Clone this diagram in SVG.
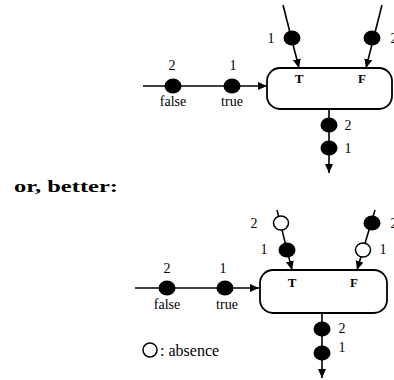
<svg xmlns="http://www.w3.org/2000/svg" width="394" height="380" viewBox="0 0 394 380">
<defs>
<marker id="arr" markerWidth="10" markerHeight="10" refX="9" refY="4" orient="auto" markerUnits="userSpaceOnUse">
<path d="M0,0 L9,4 L0,8 Z" fill="#000"/>
</marker>
</defs>
<style>
.ln{stroke:#000;stroke-width:1.6;fill:none}
.box{stroke:#000;stroke-width:1.8;fill:#fff}
.dot{fill:#000}
.odot{fill:#fff;stroke:#000;stroke-width:1.5}
.lb{font-family:"Liberation Serif",serif;font-size:14px;fill:#000;text-anchor:middle}
.tf{font-family:"Liberation Serif",serif;font-size:13px;font-weight:bold;fill:#000;text-anchor:middle}
.hd{font-family:"Liberation Serif",serif;font-size:17px;font-weight:bold;fill:#000}
.lg{font-family:"Liberation Serif",serif;font-size:16px;fill:#000}
</style>
<rect width="394" height="380" fill="#fff"/>
<g id="connectors">
<line class="ln" x1="143" y1="86" x2="267" y2="86" marker-end="url(#arr)"/>
<line class="ln" x1="283" y1="5" x2="299" y2="68" marker-end="url(#arr)"/>
<line class="ln" x1="382" y1="5" x2="366" y2="68" marker-end="url(#arr)"/>
<line class="ln" x1="329" y1="109" x2="329" y2="173" marker-end="url(#arr)"/>
<line class="ln" x1="135" y1="288" x2="259" y2="288" marker-end="url(#arr)"/>
<line class="ln" x1="277" y1="210" x2="292" y2="270" marker-end="url(#arr)"/>
<line class="ln" x1="375" y1="210" x2="357" y2="270" marker-end="url(#arr)"/>
<line class="ln" x1="322" y1="313" x2="322" y2="378" marker-end="url(#arr)"/>
</g>
<g id="node-top">
<rect class="box" x="267" y="68" width="125" height="41" rx="13"/>
<text class="tf" x="299" y="83">T</text>
<text class="tf" x="362" y="83">F</text>
</g>
<g id="tokens-top">
<ellipse class="dot" cx="173" cy="86" rx="8.5" ry="7.5"/>
<ellipse class="dot" cx="232" cy="86" rx="8.5" ry="7.5"/>
<text class="lb" x="172" y="70">2</text>
<text class="lb" x="233" y="70">1</text>
<text class="lb" x="173" y="106">false</text>
<text class="lb" x="232" y="106">true</text>
<ellipse class="dot" cx="292" cy="38" rx="8.5" ry="7.5"/>
<text class="lb" x="271" y="43">1</text>
<ellipse class="dot" cx="372" cy="38" rx="8.5" ry="7.5"/>
<text class="lb" x="394" y="43">2</text>
<ellipse class="dot" cx="329" cy="125" rx="8.5" ry="7.5"/>
<ellipse class="dot" cx="329" cy="148" rx="8.5" ry="7.5"/>
<text class="lb" x="348" y="130">2</text>
<text class="lb" x="348" y="153">1</text>
</g>
<text class="hd" x="14" y="192" textLength="104" lengthAdjust="spacingAndGlyphs">or, better:</text>
<g id="node-bottom">
<rect class="box" x="260" y="270" width="127" height="43" rx="13"/>
<text class="tf" x="292" y="287">T</text>
<text class="tf" x="354" y="287">F</text>
</g>
<g id="tokens-bottom">
<ellipse class="dot" cx="167" cy="288" rx="8.5" ry="7.5"/>
<ellipse class="dot" cx="225" cy="288" rx="8.5" ry="7.5"/>
<text class="lb" x="167" y="273">2</text>
<text class="lb" x="223" y="273">1</text>
<text class="lb" x="167" y="309">false</text>
<text class="lb" x="227" y="309">true</text>
<ellipse class="odot" cx="281" cy="223" rx="7.5" ry="7"/>
<text class="lb" x="254" y="228">2</text>
<ellipse class="dot" cx="287" cy="250" rx="8.5" ry="7.5"/>
<text class="lb" x="264" y="254">1</text>
<ellipse class="dot" cx="372" cy="223" rx="8.5" ry="7.5"/>
<text class="lb" x="394" y="228">2</text>
<ellipse class="odot" cx="363" cy="250" rx="7.5" ry="7"/>
<text class="lb" x="383" y="254">1</text>
<ellipse class="dot" cx="322" cy="329" rx="8.5" ry="7.5"/>
<ellipse class="dot" cx="322" cy="353" rx="8.5" ry="7.5"/>
<text class="lb" x="342" y="333">2</text>
<text class="lb" x="342" y="352">1</text>
</g>
<g id="legend">
<ellipse class="odot" cx="150" cy="350" rx="7" ry="7"/>
<text class="lg" x="160" y="356">: absence</text>
</g>
</svg>
